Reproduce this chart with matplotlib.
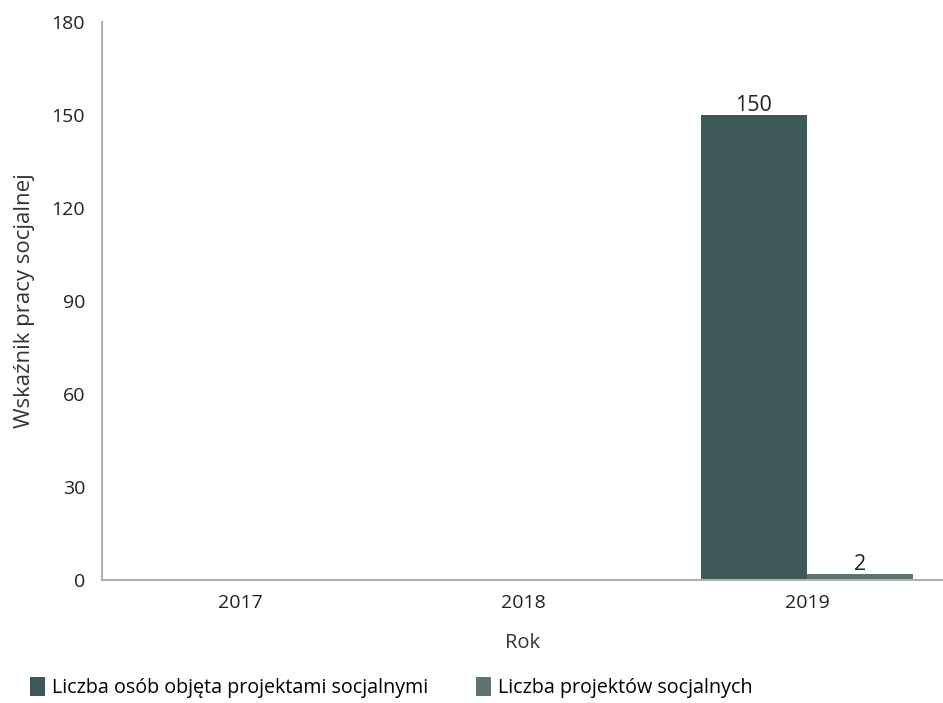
import matplotlib
matplotlib.use("Agg")
import matplotlib.pyplot as plt
import numpy as np

years = ["2017", "2018", "2019"]
osoby = [0, 0, 150]
projekty = [0, 0, 2]
series_names = ["Liczba osób objęta projektami socjalnymi", "Liczba projektów socjalnych"]
y_ticks = [0, 30, 60, 90, 120, 150, 180]

plt.rcParams['font.family'] = ['Open Sans', 'DejaVu Sans']

fig = plt.figure(figsize=(9.43, 7.03), dpi=100)
ax = fig.add_axes([0.108, 0.175, 0.892, 0.794])

x = np.arange(len(years))
w = 0.375
c1 = "#3c5957"
c2 = "#5c7371"
b1 = ax.bar(x - w / 2, osoby, w, color=c1, label=series_names[0])
b2 = ax.bar(x + w / 2, projekty, w, color=c2, label=series_names[1])

for bars, vals in ((b1, osoby), (b2, projekty)):
    for r, v in zip(bars, vals):
        if v:
            ax.text(r.get_x() + r.get_width() / 2, v - 0.5, str(v), ha="center", va="bottom",
                    fontsize=15.5, color="#222222")

ax.set_xlim(-0.49, 2.48)
ax.set_ylim(0, 180)
ax.set_yticks(y_ticks)
ax.set_xticks(x)
ax.set_xticklabels(years)
ax.tick_params(axis="both", length=0, labelsize=14, colors="#222222")
ax.tick_params(axis="x", pad=10)
ax.tick_params(axis="y", pad=12)
for s in ("top", "right"):
    ax.spines[s].set_visible(False)
for s in ("left", "bottom"):
    ax.spines[s].set_color("#b0b0b0")
    ax.spines[s].set_linewidth(1.5)

ax.set_xlabel("Rok", fontsize=14.5, color="#333333", labelpad=15)
ax.set_ylabel("Wskaźnik pracy socjalnej", fontsize=16, color="#333333", labelpad=12)

fig.legend(handles=[b1, b2], loc="lower left", bbox_to_anchor=(0.013, -0.018), ncol=2, frameon=False,
           fontsize=14.2, handlelength=0.75, handleheight=1.1, handletextpad=0.35, columnspacing=2.45)

fig.savefig("out.png", dpi=100)
